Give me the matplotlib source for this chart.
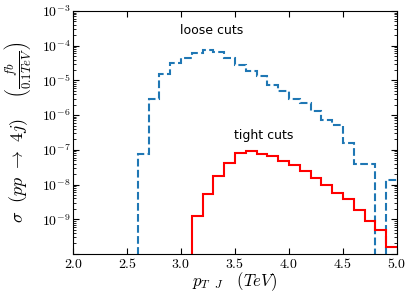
import numpy as np
import matplotlib
matplotlib.use("Agg")
import matplotlib.pyplot as plt
from matplotlib.ticker import FuncFormatter, LogLocator, MultipleLocator

plt.rcParams['mathtext.fontset'] = 'cm'

bin_edges = np.round(np.arange(2.0, 5.0001, 0.1), 2)
loose = [0, 0, 0, 0, 0, 0, 7.7e-8, 2.9e-6, 1.55e-5, 3.2e-5,
         4.5e-5, 6.2e-5, 7.3e-5, 6.6e-5, 4.4e-5, 2.8e-5, 1.9e-5, 1.33e-5, 7.6e-6, 5.0e-6,
         2.9e-6, 2.2e-6, 1.3e-6, 7.1e-7, 5.2e-7, 1.55e-7, 4.0e-8, 4.0e-8, 0, 1.35e-8]
tight = [0, 0, 0, 0, 0, 0, 0, 0, 0, 0,
         0, 1.23e-9, 5.5e-9, 1.8e-8, 4.2e-8, 8.2e-8, 9.0e-8, 7.7e-8, 6.5e-8, 4.9e-8,
         3.6e-8, 2.5e-8, 1.5e-8, 9.8e-9, 5.6e-9, 3.7e-9, 1.8e-9, 8.7e-10, 4.9e-10, 1.6e-10]

fig = plt.figure(figsize=(4.13, 2.98), dpi=100)
ax = fig.add_axes([0.177, 0.148, 0.784, 0.815])
ax.set_yscale('log', nonpositive='clip')
ax.stairs(loose, bin_edges, baseline=None, color='#1f77b4', linestyle='--', linewidth=1.5)
ax.stairs(tight, bin_edges, baseline=None, color='red', linestyle='-', linewidth=1.5)

ax.set_xlim(2.0, 5.0)
ax.set_ylim(1e-10, 1e-3)
ax.xaxis.set_major_locator(MultipleLocator(0.5))
ax.xaxis.set_major_formatter(FuncFormatter(lambda v, p: r'$%.1f$' % v))
ax.yaxis.set_major_locator(LogLocator(base=10, numticks=20))
ax.yaxis.set_minor_locator(LogLocator(base=10, subs=np.arange(2, 10), numticks=20))
def yfmt(v, p):
    e = int(np.round(np.log10(v)))
    if e == -10:
        return ''
    return r'$10^{%d}$' % e
ax.yaxis.set_major_formatter(FuncFormatter(yfmt))
ax.tick_params(which='both', direction='in', top=True, right=True, labelsize=10)
ax.tick_params(which='major', length=4, pad=2)
ax.tick_params(which='minor', length=2)

ax.text(3.28, 2.7e-4, 'loose cuts', ha='center', va='center', fontsize=9)
ax.text(3.77, 2.6e-7, 'tight cuts', ha='center', va='center', fontsize=9)

ax.set_xlabel(r'$p_{T\ \ J}\quad (TeV)$', fontsize=12, labelpad=0)
ax.set_ylabel(r'$\sigma\ \ (pp\ \rightarrow\ 4j)\quad\ \left(\frac{fb}{0.1TeV}\right)$', fontsize=13, labelpad=6)

fig.savefig('out.png', dpi=100)
